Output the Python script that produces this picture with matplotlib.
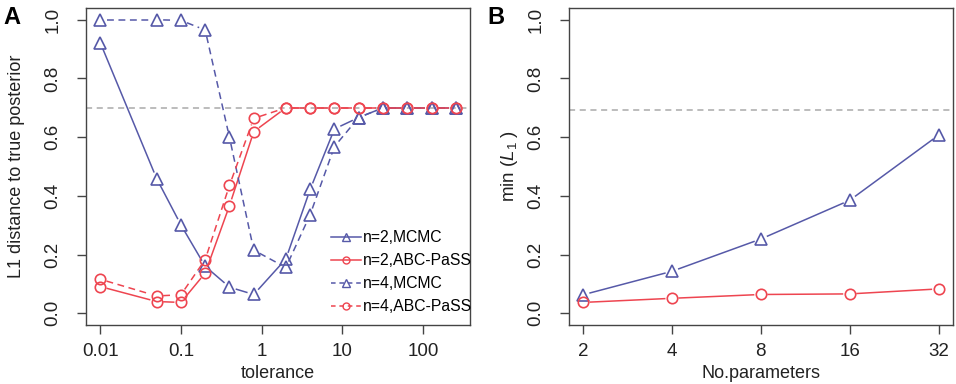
import numpy as np
import matplotlib
matplotlib.use("Agg")
import matplotlib.pyplot as plt
from matplotlib.lines import Line2D

plt.rcParams['font.family'] = ['Liberation Sans', 'DejaVu Sans']
plt.rcParams['mathtext.fontset'] = 'custom'
plt.rcParams['mathtext.rm'] = 'Liberation Sans'
plt.rcParams['mathtext.it'] = 'Liberation Sans:italic'

# ---- data panel A ----
tolerance = [0.01, 0.05, 0.1, 0.2, 0.4, 0.8, 2, 4, 8, 16, 32, 64, 128, 256]
n2_mcmc = [0.922, 0.459, 0.301, 0.16, 0.089, 0.064, 0.185, 0.422, 0.628, 0.667, 0.70, 0.70, 0.70, 0.70]
n4_mcmc = [1.0, 1.0, 0.998, 0.965, 0.599, 0.215, 0.156, 0.336, 0.568, 0.667, 0.70, 0.70, 0.70, 0.70]
n2_abc = [0.091, 0.04, 0.037, 0.137, 0.367, 0.619, 0.70, 0.70, 0.70, 0.70, 0.70, 0.70, 0.70, 0.70]
n4_abc = [0.116, 0.059, 0.063, 0.183, 0.436, 0.664, 0.70, 0.70, 0.70, 0.70, 0.70, 0.70, 0.70, 0.70]
ref_A = 0.70
xticks_A = [0.01, 0.1, 1, 10, 100]
xticklabels_A = ['0.01', '0.1', '1', '10', '100']

# ---- data panel B ----
n_params = [2, 4, 8, 16, 32]
min_mcmc = [0.063, 0.143, 0.253, 0.385, 0.607]
min_abc = [0.037, 0.051, 0.064, 0.066, 0.083]
ref_B = 0.693
yticks = [0.0, 0.2, 0.4, 0.6, 0.8, 1.0]

BLUE = '#5659a8'
RED = '#ee4550'
GRAY = '#aaaaaa'
AXC = '#444444'
TXT = '#222222'

fig = plt.figure(figsize=(9.56, 3.84), dpi=100)
axA = fig.add_axes([0.090, 0.1536, 0.4017, 0.8255])
axB = fig.add_axes([0.595, 0.1536, 0.4017, 0.8255])

def lpad(lo, hi, f=0.04):
    r = hi - lo
    return lo - f * r, hi + f * r

axA.set_xscale('log')
la, lb = lpad(np.log10(min(tolerance)), np.log10(max(tolerance)))
axA.set_xlim(10 ** la, 10 ** lb)
axA.set_ylim(*lpad(0, 1))
axB.set_xscale('log', base=2)
la, lb = lpad(np.log2(min(n_params)), np.log2(max(n_params)))
axB.set_xlim(2 ** la, 2 ** lb)
axB.set_ylim(*lpad(0, 1))


def gapped(ax, x, y, gap_px=6.5, **kw):
    pts = ax.transData.transform(np.column_stack([x, y]))
    inv = ax.transData.inverted()
    for i in range(len(pts) - 1):
        p0, p1 = pts[i], pts[i + 1]
        d = p1 - p0
        L = np.hypot(*d)
        if L <= 2 * gap_px:
            continue
        u = d / L
        seg = inv.transform(np.array([p0 + u * gap_px, p1 - u * gap_px]))
        ax.plot(seg[:, 0], seg[:, 1], **kw)


def series(ax, x, y, color, ls, marker, ms, dashes=None):
    kw = dict(color=color, lw=1.1, linestyle=ls, solid_capstyle='butt')
    if dashes is not None:
        kw['dashes'] = dashes
    gapped(ax, x, y, **kw)
    ax.plot(x, y, linestyle='none', marker=marker, ms=ms, mfc='none',
            mec=color, mew=1.2)

DASH = (4.5, 3)
axA.axhline(ref_A, color=GRAY, lw=1.1, dashes=(4, 3))
series(axA, tolerance, n2_mcmc, BLUE, '-', '^', 9)
series(axA, tolerance, n2_abc, RED, '-', 'o', 7.5)
series(axA, tolerance, n4_mcmc, BLUE, '--', '^', 9, DASH)
series(axA, tolerance, n4_abc, RED, '--', 'o', 7.5, DASH)

axB.axhline(ref_B, color=GRAY, lw=1.1, dashes=(4, 3))
series(axB, n_params, min_mcmc, BLUE, '-', '^', 9)
series(axB, n_params, min_abc, RED, '-', 'o', 7.5)

for ax in (axA, axB):
    for s in ax.spines.values():
        s.set_color(AXC)
        s.set_linewidth(1.0)
    ax.set_yticks(yticks)
    ax.set_yticklabels([f'{v:.1f}' for v in yticks], rotation=90, va='center')
    ax.tick_params(axis='both', which='major', direction='out', length=6.5,
                   width=1.0, color=AXC, labelsize=13.5, labelcolor=TXT)
    ax.tick_params(axis='x', pad=6.5)
    ax.tick_params(axis='y', pad=11)
    ax.tick_params(which='minor', length=0)

axA.set_xticks(xticks_A)
axA.set_xticklabels(xticklabels_A)
axB.set_xticks(n_params)
axB.set_xticklabels([str(v) for v in n_params])
axA.xaxis.set_minor_locator(matplotlib.ticker.NullLocator())
axB.xaxis.set_minor_locator(matplotlib.ticker.NullLocator())

axA.set_xlabel('tolerance', fontsize=13, color=TXT)
axB.set_xlabel('No.parameters', fontsize=13, color=TXT)
axA.xaxis.set_label_coords(0.5, -0.125)
axB.xaxis.set_label_coords(0.5, -0.125)
axA.set_ylabel('L1 distance to true posterior', fontsize=13, color=TXT)
axB.set_ylabel(r'min $(\mathit{L}_{1}\;)$', fontsize=13.5, color=TXT)
for ax in (axA, axB):
    ax.yaxis.label.set_va('center')
axA.yaxis.set_label_coords(-0.18, 0.5)
axB.yaxis.set_label_coords(-0.155, 0.5)

fig.text(0.004, 0.985, 'A', fontsize=17, fontweight='bold', va='top', ha='left')
fig.text(0.510, 0.985, 'B', fontsize=17, fontweight='bold', va='top', ha='left')

handles = [
    Line2D([], [], color=BLUE, lw=1.1, ls='-', marker='^', ms=6, mfc='none', mec=BLUE),
    Line2D([], [], color=RED, lw=1.1, ls='-', marker='o', ms=5, mfc='none', mec=RED),
    Line2D([], [], color=BLUE, lw=1.1, ls='--', dashes=(3, 2.5), marker='^', ms=6, mfc='none', mec=BLUE),
    Line2D([], [], color=RED, lw=1.1, ls='--', dashes=(3, 2.5), marker='o', ms=5, mfc='none', mec=RED),
]
labels = ['n=2,MCMC', 'n=2,ABC-PaSS', 'n=4,MCMC', 'n=4,ABC-PaSS']
axA.legend(handles, labels, loc='lower right', bbox_to_anchor=(1.035, 0.0),
           frameon=False, fontsize=11.3, handlelength=1.9, handletextpad=0.15,
           labelspacing=0.5, borderpad=0.2)

fig.savefig('out.png', dpi=100)
